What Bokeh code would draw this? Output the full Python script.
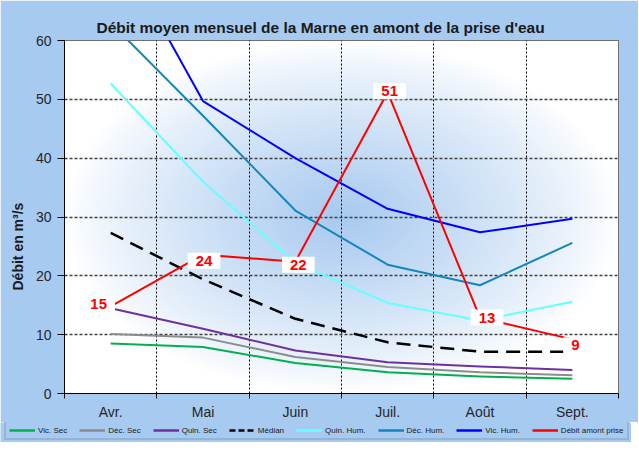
import numpy as np
from bokeh.plotting import figure
from bokeh.layouts import column
from bokeh.models import ColumnDataSource, FixedTicker, Range1d, Legend, LegendItem, Title
from bokeh.core.properties import value
from bokeh.embed import file_html
from bokeh.resources import INLINE

# ---------------- data ----------------
months = ["Avr.", "Mai", "Juin", "Juil.", "Août", "Sept."]
vic_sec = [8.5, 7.9, 5.2, 3.6, 2.9, 2.5]
dec_sec = [10.1, 9.5, 6.2, 4.5, 3.6, 3.1]
quin_sec = [14.5, 11.0, 7.3, 5.3, 4.6, 4.0]
median = [27.3, 19.4, 12.7, 8.7, 7.1, 7.1]
quin_hum = [52.7, 36.0, 22.3, 15.4, 12.4, 15.6]
dec_hum = [63.0, 47.2, 31.1, 21.9, 18.4, 25.6]
vic_hum = [78.0, 49.7, 40.0, 31.4, 27.4, 29.7]
debit = [14.8, 23.6, 22.4, 51.2, 12.9, 9.2]
y_ticks = [0, 10, 20, 30, 40, 50, 60]

# ---------------- style ----------------
FONT = "Liberation Sans"
BG = "#a6caf0"
label_dx = [-12, 1, 3, 2, 7, 3]
label_dy = [-2, 6, 3, -1, 0, 6]

n = len(months)
xc = [i + 0.5 for i in range(n)]
bounds = list(range(1, n))

p = figure(frame_width=554, frame_height=353, output_backend="svg", toolbar_location=None,
           x_range=Range1d(0, n), y_range=Range1d(y_ticks[0], y_ticks[-1]),
           min_border_left=57, min_border_right=20, min_border_top=40, min_border_bottom=26,
           border_fill_color=BG, background_fill_color="white",
           outline_line_color="#404040", outline_line_width=1)

# radial gradient background of plot area
ny, nx = 180, 280
gx = np.linspace(-1, 1, nx)
gy = np.linspace(-1, 1, ny)
X, Y = np.meshgrid(gx, gy)
t = np.clip(1 - np.sqrt(X ** 2 + Y ** 2), 0, 1) ** 0.85
c = np.array([168, 202, 240])
img = np.empty((ny, nx, 4), dtype=np.uint8)
for k in range(3):
    img[:, :, k] = (255 - (255 - c[k]) * t).astype(np.uint8)
img[:, :, 3] = 255
p.image_rgba(image=[img.view(dtype=np.uint32).reshape(ny, nx)], x=0, y=0, dw=n, dh=60, level="image")

# title
p.title.text = "Débit moyen mensuel de la Marne en amont de la prise d'eau"
p.title.align = "left"
p.title.offset = 32
p.title.text_font = FONT
p.title.text_font_size = "15.5px"
p.title.text_font_style = "bold"
p.title.text_color = "#1a1a1a"

# y axis label as a side title
p.add_layout(Title(text="Débit en m³/s", align="left", offset=103, standoff=14,
                   text_font=FONT, text_font_size="14px", text_font_style="bold",
                   text_color="#1a1a1a"), "left")

# axes
xa = p.xaxis[0]
xa.ticker = FixedTicker(ticks=xc, minor_ticks=list(range(0, n + 1)))
xa.major_label_overrides = {x: m for x, m in zip(xc, months)}
xa.major_tick_line_color = None
xa.major_tick_out = 5
xa.major_label_standoff = 5
xa.minor_tick_in = 0
xa.minor_tick_out = 5
xa.minor_tick_line_color = "black"
xa.axis_line_color = "black"
xa.major_label_text_font = FONT
xa.major_label_text_font_size = "14px"
xa.major_label_text_color = "#262626"

ya = p.yaxis[0]
ya.ticker = FixedTicker(ticks=y_ticks)
ya.major_tick_out = 7
ya.major_tick_in = 0
ya.minor_tick_line_color = None
ya.axis_line_color = "black"
ya.major_label_text_font = FONT
ya.major_label_text_font_size = "14px"
ya.major_label_text_color = "#262626"
ya.major_label_standoff = 6

p.xgrid.ticker = FixedTicker(ticks=bounds)
p.xgrid.grid_line_color = "black"
p.xgrid.grid_line_dash = "2 2"
p.xgrid.grid_line_width = 1
p.ygrid.grid_line_color = "#404040"
p.ygrid.grid_line_dash = "3 2"
p.ygrid.grid_line_width = 1.3

# series
series = [
    ("Vic. Sec", vic_sec, "#00b050", "solid", 2),
    ("Déc. Sec", dec_sec, "#8c8c8c", "solid", 2),
    ("Quin. Sec", quin_sec, "#7030a0", "solid", 2),
    ("Médian", median, "black", "14 8", 2.5),
    ("Quin. Hum.", quin_hum, "#66ffff", "solid", 2),
    ("Déc. Hum.", dec_hum, "#1585c0", "solid", 2),
    ("Vic. Hum.", vic_hum, "#0000ff", "solid", 2),
    ("Débit amont prise", debit, "#ff0000", "solid", 2),
]
for name, vals, col, dash, w in series:
    p.line(xc, vals, line_color=col, line_width=w, line_dash=dash, line_join="round")

# red data labels
lab_src = ColumnDataSource(dict(x=xc, y=debit, text=[f"{round(v)}" for v in debit],
                                dx=label_dx, dy=label_dy))
p.text(x="x", y="y", text="text", source=lab_src, x_offset="dx", y_offset="dy",
       text_font=value(FONT), text_font_style="bold", text_font_size="15px",
       text_color="#ff0000", text_align="center", text_baseline="middle",
       background_fill_color="white",
       padding=dict(left=8, right=8, top=3, bottom=3))

# legend strip (separate figure below the chart)
p2 = figure(width=631, height=20, output_backend="svg", toolbar_location=None,
            x_axis_type=None, y_axis_type=None, x_range=Range1d(0, 1), y_range=Range1d(0, 1),
            min_border=0, min_border_left=0, min_border_right=0, min_border_top=0, min_border_bottom=0,
            border_fill_color=BG, background_fill_color=BG, outline_line_color=None)
p2.grid.visible = False

unaligned = True
try:
    p.frame_align = False
    p2.frame_align = False
except Exception:
    unaligned = False

items = []
for name, vals, col, dash, w in series:
    r = p2.line(x=[np.nan], y=[np.nan], line_color=col, line_width=2.5,
                line_dash=("6 3" if dash != "solid" else dash))
    items.append(LegendItem(label=name, renderers=[r]))

if unaligned:
    leg_kw = dict(location=(4, 2), glyph_width=26, label_standoff=3, spacing=12)
else:
    leg_kw = dict(location=(0, 2), glyph_width=22, label_standoff=2, spacing=6)

legend = Legend(items=items, orientation="horizontal",
                label_text_font=FONT, label_text_font_size="8px", label_text_color="#1a1a1a",
                glyph_height=8, label_height=10, padding=3, margin=0,
                background_fill_color=BG, background_fill_alpha=1,
                border_line_color="#7f9db9", border_line_width=2, **leg_kw)
p2.add_layout(legend, "center")

layout = column(p, p2, spacing=0)
open("out.html", "w").write(file_html(layout, INLINE))
